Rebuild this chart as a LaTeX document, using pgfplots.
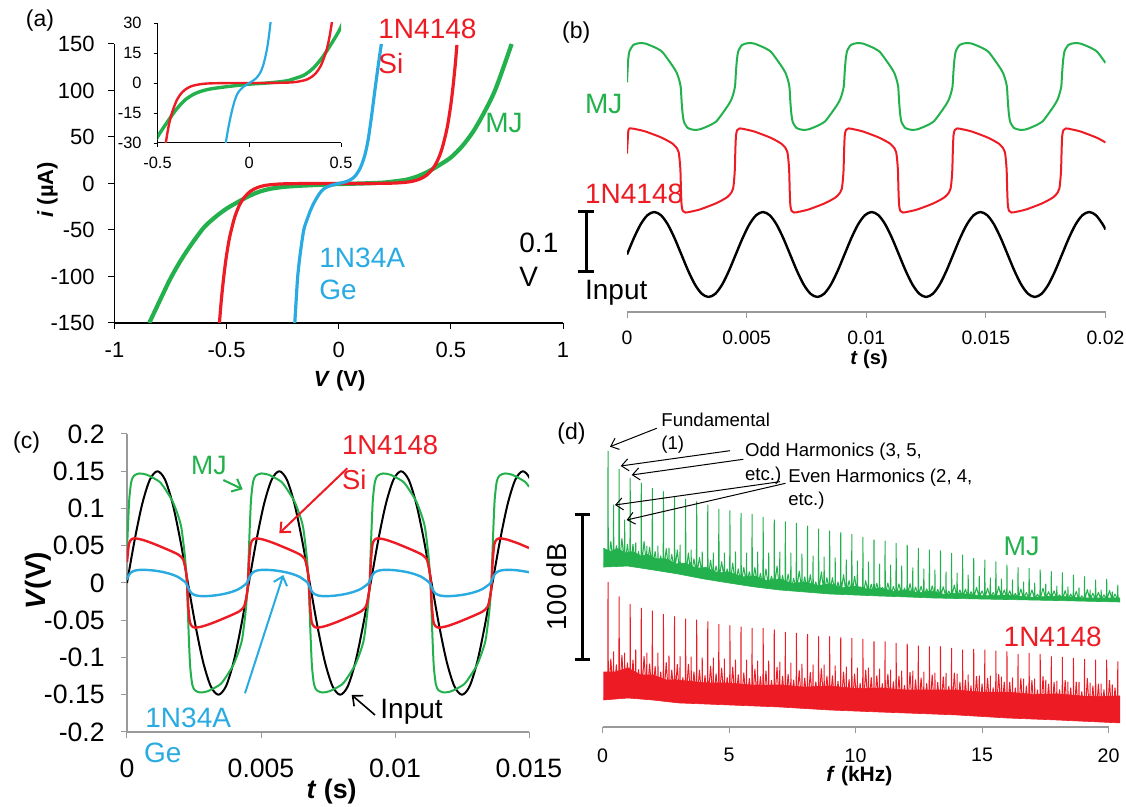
\documentclass[border=0pt]{standalone}
\usepackage{fontspec}
\setmainfont{Liberation Sans}
\usepackage{pgfplots}
\pgfplotsset{compat=1.18}
\usepackage{pgfplotstable}
\usetikzlibrary{arrows.meta}
\definecolor{mjg}{RGB}{34,177,76}
\definecolor{sir}{RGB}{237,28,36}
\definecolor{geb}{RGB}{41,171,226}
\newcommand{\fs}[1]{\fontsize{#1}{#1}\selectfont}

\pgfplotstableread{
V i
-0.532 -150
-0.525 -129
-0.515 -105
-0.505 -85
-0.495 -69
-0.485 -56
-0.465 -37
-0.445 -24.4
-0.425 -16.1
-0.395 -8.6
-0.365 -4.6
-0.335 -2.46
-0.305 -1.32
-0.255 -0.46
-0.2 -0.16
-0.1 -0.02
0 0
0.1 0.02
0.2 0.16
0.25 0.46
0.30 1.32
0.33 2.46
0.36 4.6
0.39 8.6
0.42 16.1
0.44 24.4
0.46 37
0.48 56
0.49 69
0.50 85
0.51 105
0.52 129
0.527 149
}\tabRed

\pgfplotstableread{
V i
-0.196 -150
-0.19 -126
-0.183 -100
-0.172 -76
-0.156 -50
-0.14 -38
-0.128 -30
-0.113 -22
-0.097 -15
-0.08 -9
-0.065 -5.5
-0.05 -3.5
-0.03 -1.8
-0.015 -0.8
0 0
0.02 1.1
0.04 2.6
0.059 5
0.075 8.5
0.09 14
0.102 20
0.118 32
0.131 47
0.145 70
0.16 98
0.175 125
0.19 150
}\tabBlue

\pgfplotstableread{
V i
-0.845 -150
-0.8 -127
-0.75 -102
-0.7 -81
-0.65 -63
-0.6 -47
-0.55 -36
-0.5 -27
-0.45 -20
-0.4 -13.5
-0.35 -8.5
-0.3 -5.5
-0.25 -3.8
-0.2 -2.8
-0.1 -1.6
0 -0.6
0.1 0
0.2 1
0.25 2.3
0.3 4
0.35 7.5
0.4 13
0.45 20
0.5 28
0.55 40
0.6 56
0.65 77
0.7 102
0.771 150
}\tabGreen

\pgfplotstableread{
t vb vc
0.000 0 0
0.284 0.0271 0.0574
0.568 0.0501 0.1061
0.852 0.0654 0.1386
1.136 0.0708 0.15
1.420 0.0654 0.1386
1.705 0.0501 0.1061
1.989 0.0271 0.0574
2.273 0 0
2.557 -0.0271 -0.0574
2.841 -0.0501 -0.1061
3.125 -0.0654 -0.1386
3.409 -0.0708 -0.15
3.693 -0.0654 -0.1386
3.977 -0.0501 -0.1061
4.261 -0.0271 -0.0574
4.545 0 0
4.830 0.0271 0.0574
5.114 0.0501 0.1061
5.398 0.0654 0.1386
5.682 0.0708 0.15
5.966 0.0654 0.1386
6.250 0.0501 0.1061
6.534 0.0271 0.0574
6.818 0 0
7.102 -0.0271 -0.0574
7.386 -0.0501 -0.1061
7.670 -0.0654 -0.1386
7.955 -0.0708 -0.15
8.239 -0.0654 -0.1386
8.523 -0.0501 -0.1061
8.807 -0.0271 -0.0574
9.091 0 0
9.375 0.0271 0.0574
9.659 0.0501 0.1061
9.943 0.0654 0.1386
10.227 0.0708 0.15
10.511 0.0654 0.1386
10.795 0.0501 0.1061
11.080 0.0271 0.0574
11.364 0 0
11.648 -0.0271 -0.0574
11.932 -0.0501 -0.1061
12.216 -0.0654 -0.1386
12.500 -0.0708 -0.15
12.784 -0.0654 -0.1386
13.068 -0.0501 -0.1061
13.352 -0.0271 -0.0574
13.636 0 0
13.920 0.0271 0.0574
14.205 0.0501 0.1061
14.489 0.0654 0.1386
14.773 0.0708 0.15
15.057 0.0654 0.1386
15.341 0.0501 0.1061
15.625 0.0271 0.0574
15.909 0 0
16.193 -0.0271 -0.0574
16.477 -0.0501 -0.1061
16.761 -0.0654 -0.1386
17.045 -0.0708 -0.15
17.330 -0.0654 -0.1386
17.614 -0.0501 -0.1061
17.898 -0.0271 -0.0574
18.182 0 0
18.466 0.0271 0.0574
18.750 0.0501 0.1061
19.034 0.0654 0.1386
19.318 0.0708 0.15
19.602 0.0654 0.1386
19.886 0.0501 0.1061
20.000 0.0415 0.0879
}\tabSine

\pgfplotstableread{
f g r
0.03 112.5 20
0.207 112.5 20
0.219 190.3 99.8
0.231 112.5 20
0.329 128 46.8
0.426 112.5 20
0.438 153.1 51.9
0.450 112.5 20
0.548 125 42.9
0.645 112.5 20
0.657 177.7 89.9
0.669 112.5 20
0.767 130 49.4
0.864 112.5 20
0.876 142.8 51.0
0.888 112.5 20
0.986 126 44.2
1.083 111 21
1.095 171.5 84.6
1.107 111 21
1.205 126 46.1
1.302 111 21
1.314 126.9 53.1
1.326 111 21
1.424 121 39.6
1.521 111 21
1.533 168.1 81.9
1.545 111 21
1.643 128 48.7
1.740 111 21
1.752 124.8 51.0
1.764 111 21
1.862 124 43.5
1.959 111 21
1.971 164.6 80.0
1.983 111 21
2.081 121 41.8
2.178 108.5 19.5
2.190 124.8 51.0
2.202 108.5 19.5
2.300 118 37.9
2.397 108.5 19.5
2.409 162.3 77.7
2.421 108.5 19.5
2.519 123 44.4
2.616 108.5 19.5
2.628 123.4 49.0
2.640 108.5 19.5
2.738 119 39.2
2.835 108.5 19.5
2.847 158.4 76.1
2.859 108.5 19.5
2.957 122 43.1
3.054 105.5 17.5
3.066 125.5 48.5
3.078 105.5 17.5
3.176 113 34.1
3.273 105.5 17.5
3.285 157.0 74.5
3.297 105.5 17.5
3.395 120 43.2
3.492 105.5 17.5
3.504 122.1 48.3
3.516 105.5 17.5
3.614 116 38
3.711 105.5 17.5
3.723 155.4 73.8
3.735 105.5 17.5
3.833 117 39.3
3.930 105.5 17.5
3.942 120.7 47.6
3.954 105.5 17.5
4.052 110 35.4
4.149 102.5 17.5
4.161 153.1 72.6
4.173 102.5 17.5
4.271 115 41.9
4.368 102.5 17.5
4.380 120.0 47.6
4.392 102.5 17.5
4.490 111 36.7
4.587 102.5 17.5
4.599 150.1 70.8
4.611 102.5 17.5
4.709 114 40.6
4.806 102.5 17.5
4.818 120.0 46.9
4.830 102.5 17.5
4.928 109 34.1
5.025 99.5 16
5.037 149.2 69.9
5.049 99.5 16
5.147 113 41.2
5.244 99.5 16
5.256 120.7 46.2
5.268 99.5 16
5.366 109 36
5.463 99.5 16
5.475 147.4 69.0
5.487 99.5 16
5.585 110 37.3
5.682 99.5 16
5.694 120.0 46.2
5.706 99.5 16
5.804 107 33.4
5.901 99.5 16
5.913 146.7 68.1
5.925 99.5 16
6.023 110 39.9
6.120 97 16
6.132 120.7 45.5
6.144 97 16
6.242 106 34.7
6.339 97 16
6.351 144.6 68.1
6.363 97 16
6.461 109 38.6
6.558 97 16
6.570 120.0 45.5
6.582 97 16
6.680 104 32.1
6.777 97 16
6.789 142.8 66.9
6.801 97 16
6.899 111 41.2
6.996 95 14.5
7.008 120.7 44.8
7.020 95 14.5
7.118 104.5 35
7.215 95 14.5
7.227 141.6 65.3
7.239 95 14.5
7.337 105.5 36.3
7.434 95 14.5
7.446 120.0 44.1
7.458 95 14.5
7.556 102.5 32.4
7.653 95 14.5
7.665 140.5 64.6
7.677 95 14.5
7.775 107.5 38.9
7.872 95 14.5
7.884 119.3 43.4
7.896 95 14.5
7.994 103.5 33.7
8.091 93.5 14.5
8.103 138.6 63.9
8.115 93.5 14.5
8.213 105 37.6
8.310 93.5 14.5
8.322 117.9 42.8
8.334 93.5 14.5
8.432 100 31.1
8.529 93.5 14.5
8.541 136.6 62.3
8.553 93.5 14.5
8.651 107 40.2
8.748 93.5 14.5
8.760 117.2 42.8
8.772 93.5 14.5
8.870 103 35
8.967 93.5 14.5
8.979 135.2 62.3
8.991 93.5 14.5
9.089 103 35.3
9.186 92.5 12.5
9.198 116.6 42.1
9.210 92.5 12.5
9.308 100 31.4
9.405 92.5 12.5
9.417 134.0 61.6
9.429 92.5 12.5
9.527 105 37.9
9.624 92.5 12.5
9.636 115.2 41.4
9.648 92.5 12.5
9.746 101 32.7
9.843 92.5 12.5
9.855 132.9 61.2
9.867 92.5 12.5
9.965 104 36.6
10.062 92 12.5
10.074 114.5 40.7
10.086 92 12.5
10.184 96.7 30.1
10.281 92 12.5
10.293 130.8 60.5
10.305 92 12.5
10.403 100.9 39.2
10.500 92 12.5
10.512 113.8 40.7
10.524 92 12.5
10.622 98.5 34
10.719 92 12.5
10.731 129.0 58.8
10.743 92 12.5
10.841 99.1 35.3
10.938 92 12.5
10.950 112.4 40.0
10.962 92 12.5
11.060 96.3 29.9
11.157 91.3 11
11.169 128.3 58.8
11.181 91.3 11
11.279 99.3 36.4
11.376 91.3 11
11.388 111.7 39.3
11.400 91.3 11
11.498 96.9 31.2
11.595 91.3 11
11.607 126.7 57.7
11.619 91.3 11
11.717 98.7 35.1
11.814 91.3 11
11.826 111.0 38.6
11.838 91.3 11
11.936 95.7 28.6
12.033 90.7 11
12.045 125.5 57.2
12.057 90.7 11
12.155 98.9 37.7
12.252 90.7 11
12.264 109.7 38.6
12.276 90.7 11
12.374 96.5 32.5
12.471 90.7 11
12.483 123.2 55.9
12.495 90.7 11
12.593 97.1 33.8
12.690 90.7 11
12.702 109.0 37.9
12.714 90.7 11
12.812 95.3 29.9
12.909 90.7 11
12.921 122.1 55.4
12.933 90.7 11
13.031 97.3 35.9
13.128 90.2 10
13.140 108.3 37.2
13.152 90.2 10
13.250 94.9 30.7
13.347 90.2 10
13.359 121.4 55.4
13.371 90.2 10
13.469 96.7 34.6
13.566 90.2 10
13.578 106.9 37.2
13.590 90.2 10
13.688 93.7 28.1
13.785 90.2 10
13.797 119.8 54.3
13.809 90.2 10
13.907 97.9 37.2
14.004 89.6 8.7
14.016 106.2 36.6
14.028 89.6 8.7
14.126 94.5 31
14.223 89.6 8.7
14.235 118.6 53.1
14.247 89.6 8.7
14.345 95.1 32.3
14.442 89.6 8.7
14.454 104.8 35.9
14.466 89.6 8.7
14.564 93.3 28.4
14.661 89.6 8.7
14.673 116.3 53.6
14.685 89.6 8.7
14.783 96.3 34.9
14.880 89.6 8.7
14.892 104.1 35.2
14.904 89.6 8.7
15.002 93.9 29.7
15.099 89.6 8.7
15.111 115.2 53.1
15.123 89.6 8.7
15.221 95.7 33.6
15.318 89.6 8.7
15.330 102.8 35.2
15.342 89.6 8.7
15.440 92.7 27.1
15.537 89.6 8.7
15.549 114.0 52.4
15.561 89.6 8.7
15.659 96.9 36.2
15.756 89.6 8.7
15.768 102.1 34.5
15.780 89.6 8.7
15.878 94.5 31
15.975 89.6 8.7
15.987 111.7 51.9
15.999 89.6 8.7
16.097 93.9 30.8
16.194 89 7
16.206 101.4 33.8
16.218 89 7
16.316 92.1 26.9
16.413 89 7
16.425 109.9 50.1
16.437 89 7
16.535 95.1 33.4
16.632 89 7
16.644 100.0 33.1
16.656 89 7
16.754 92.7 28.2
16.851 89 7
16.863 109.4 50.8
16.875 89 7
16.973 94.5 32.1
17.070 89 7
17.082 99.3 33.1
17.094 89 7
17.192 91.5 25.6
17.289 89 7
17.301 108.3 50.1
17.313 89 7
17.411 95.7 34.7
17.508 89 7
17.520 98.6 32.4
17.532 89 7
17.630 93.3 29.5
17.727 89 7
17.739 107.1 48.5
17.751 89 7
17.849 93.9 30.8
17.946 89 7
17.958 97.2 31.7
17.970 89 7
18.068 91.1 25.7
18.165 88 5
18.177 106.4 48.1
18.189 88 5
18.287 94.1 32.2
18.384 88 5
18.396 96.6 31.0
18.408 88 5
18.506 91.7 27
18.603 88 5
18.615 104.8 47.4
18.627 88 5
18.725 93.5 30.9
18.822 88 5
18.834 95.9 31.0
18.846 88 5
18.944 90.5 24.4
19.041 88 5
19.053 103.7 46.7
19.065 88 5
19.163 94.7 33.5
19.260 88 5
19.272 94.5 30.3
19.284 88 5
19.382 92.3 28.3
19.479 88 5
19.491 101.4 46.2
19.503 88 5
19.601 92.9 29.6
19.698 88 5
19.710 94.5 29.7
19.722 88 5
19.820 91.1 25.7
19.917 88 5
19.929 101.9 46.2
19.941 88 5
20.039 94.1 32.2
20.136 88 5
20.148 93.1 29.0
20.160 88 5
20.258 91.7 27
20.355 88 5
20.367 97.9 45.0
20.379 88 5
20.450 88 5
}\tabSpec

\begin{document}
\begin{tikzpicture}[line join=round]
\useasboundingbox (0,0) rectangle (563pt,403.5pt);

% ---------------- (a) main ----------------
\begin{axis}[at={(57.25pt,242pt)}, anchor=south west, scale only axis,
  width=224.25pt, height=139.5pt,
  xmin=-1, xmax=1, ymin=-150, ymax=150,
  axis lines=left, axis line style={-, black, line width=0.6pt},
  tick align=outside, major tick length=3pt, tick style={black, line width=0.5pt},
  xtick={-1,-0.5,0,0.5,1}, xticklabels={-1,-0.5,0,0.5,1},
  ytick={-150,-100,-50,0,50,100,150}, yticklabels={-150,-100,-50,0,50,100,150},
  ticklabel style={font=\fs{11}, inner sep=0pt},
  xticklabel style={anchor=north, yshift=-6.5pt},
  yticklabel style={anchor=east, xshift=-6.75pt}]
\addplot[mjg, line width=2.1pt, smooth] table[x=V,y=i] {\tabGreen};
\addplot[sir, line width=1.6pt, smooth] table[x=V,y=i] {\tabRed};
\addplot[geb, line width=1.6pt, smooth] table[x=V,y=i] {\tabBlue};
\end{axis}

% ---------------- (a) inset ----------------
\begin{axis}[at={(78.75pt,332pt)}, anchor=south west, scale only axis,
  width=91.75pt, height=60pt,
  xmin=-0.5, xmax=0.5, ymin=-30, ymax=30,
  axis lines=left, axis line style={-, black, line width=0.5pt},
  tick align=outside, major tick length=2pt, tick style={black, line width=0.4pt},
  xtick={-0.5,0,0.5}, xticklabels={-0.5,0,0.5},
  ytick={-30,-15,0,15,30}, yticklabels={-30,-15,0,15,30},
  ticklabel style={font=\fs{8.2}, inner sep=0pt},
  xticklabel style={anchor=north, yshift=-5pt},
  yticklabel style={anchor=east, xshift=-5.75pt}]
\addplot[mjg, line width=1.7pt, smooth] table[x=V,y=i] {\tabGreen};
\addplot[sir, line width=1.2pt, smooth] table[x=V,y=i] {\tabRed};
\addplot[geb, line width=1.1pt, smooth] table[x=V,y=i] {\tabBlue};
\end{axis}

% ---------------- (b) ----------------
\begin{axis}[at={(313.5pt,247.5pt)}, anchor=south west, scale only axis,
  width=239.25pt, height=138.5pt,
  xmin=0, xmax=20, ymin=-0.0958, ymax=0.3658,
  axis x line=bottom, axis y line=none, axis line style={-, black!40, line width=0.6pt},
  tick align=outside, major tick length=3pt, tick style={black!40, line width=0.5pt},
  xtick={0,5,10,15,20}, xticklabels={0,0.005,0.01,0.015,0.02}, ytick=\empty,
  ticklabel style={font=\fs{9.7}, inner sep=0pt},
  xticklabel style={anchor=north, yshift=-6.5pt}]
\addplot[black, line width=1.2pt, smooth] table[x=t,y=vb] {\tabSine};
\addplot[sir, line width=1pt, smooth, tension=0.4] coordinates {
(0,0.168) (0.06,0.2073) (0.16,0.2101) (0.26,0.2097) (0.76,0.2051) (1.46,0.1945) (1.91,0.1846) (2.09,0.1768) (2.16,0.1704) (2.2,0.1577)
(2.233,0.14) (2.258,0.1046) (2.283,0.0819) (2.333,0.0727) (2.433,0.0699) (2.533,0.0703) (3.033,0.0749) (3.733,0.0855) (4.183,0.0954) (4.363,0.1032) (4.433,0.1096) (4.473,0.1223)
(4.505,0.14) (4.530,0.1754) (4.555,0.1981) (4.605,0.2073) (4.705,0.2101) (4.805,0.2097) (5.305,0.2051) (6.005,0.1945) (6.455,0.1846) (6.635,0.1768) (6.705,0.1704) (6.745,0.1577)
(6.778,0.14) (6.803,0.1046) (6.828,0.0819) (6.878,0.0727) (6.978,0.0699) (7.078,0.0703) (7.578,0.0749) (8.278,0.0855) (8.728,0.0954) (8.908,0.1032) (8.978,0.1096) (9.018,0.1223)
(9.051,0.14) (9.076,0.1754) (9.101,0.1981) (9.151,0.2073) (9.251,0.2101) (9.351,0.2097) (9.851,0.2051) (10.551,0.1945) (11.001,0.1846) (11.181,0.1768) (11.251,0.1704) (11.291,0.1577)
(11.324,0.14) (11.349,0.1046) (11.374,0.0819) (11.424,0.0727) (11.524,0.0699) (11.624,0.0703) (12.124,0.0749) (12.824,0.0855) (13.274,0.0954) (13.454,0.1032) (13.524,0.1096) (13.564,0.1223)
(13.596,0.14) (13.621,0.1754) (13.646,0.1981) (13.696,0.2073) (13.796,0.2101) (13.896,0.2097) (14.396,0.2051) (15.096,0.1945) (15.546,0.1846) (15.726,0.1768) (15.796,0.1704) (15.836,0.1577)
(15.869,0.14) (15.894,0.1046) (15.919,0.0819) (15.969,0.0727) (16.069,0.0699) (16.169,0.0703) (16.669,0.0749) (17.369,0.0855) (17.819,0.0954) (17.999,0.1032) (18.069,0.1096) (18.109,0.1223)
(18.142,0.14) (18.167,0.1754) (18.192,0.1981) (18.242,0.2073) (18.342,0.2101) (18.442,0.2097) (18.942,0.2051) (19.642,0.1945) (20.0,0.1867)};
\addplot[mjg, line width=1pt, smooth, tension=0.4] coordinates {
(0,0.287) (0.05,0.3248) (0.11,0.3392) (0.27,0.3493) (0.52,0.3522) (0.77,0.3515) (1.17,0.345) (1.47,0.3378) (1.77,0.3219) (1.97,0.3103) (2.09,0.3017) (2.17,0.2923)
(2.243,0.28) (2.283,0.2547) (2.323,0.2352) (2.383,0.2208) (2.543,0.2107) (2.793,0.2078) (3.043,0.2085) (3.443,0.215) (3.743,0.2222) (4.043,0.2381) (4.243,0.2497) (4.363,0.2583) (4.443,0.2677)
(4.515,0.28) (4.555,0.3053) (4.595,0.3248) (4.655,0.3392) (4.815,0.3493) (5.065,0.3522) (5.315,0.3515) (5.715,0.345) (6.015,0.3378) (6.315,0.3219) (6.515,0.3103) (6.635,0.3017) (6.715,0.2923)
(6.788,0.28) (6.828,0.2547) (6.868,0.2352) (6.928,0.2208) (7.088,0.2107) (7.338,0.2078) (7.588,0.2085) (7.988,0.215) (8.288,0.2222) (8.588,0.2381) (8.788,0.2497) (8.908,0.2583) (8.988,0.2677)
(9.061,0.28) (9.101,0.3053) (9.141,0.3248) (9.201,0.3392) (9.361,0.3493) (9.611,0.3522) (9.861,0.3515) (10.261,0.345) (10.561,0.3378) (10.861,0.3219) (11.061,0.3103) (11.181,0.3017) (11.261,0.2923)
(11.334,0.28) (11.374,0.2547) (11.414,0.2352) (11.474,0.2208) (11.634,0.2107) (11.884,0.2078) (12.134,0.2085) (12.534,0.215) (12.834,0.2222) (13.134,0.2381) (13.334,0.2497) (13.454,0.2583) (13.534,0.2677)
(13.606,0.28) (13.646,0.3053) (13.686,0.3248) (13.746,0.3392) (13.906,0.3493) (14.156,0.3522) (14.406,0.3515) (14.806,0.345) (15.106,0.3378) (15.406,0.3219) (15.606,0.3103) (15.726,0.3017) (15.806,0.2923)
(15.879,0.28) (15.919,0.2547) (15.959,0.2352) (16.019,0.2208) (16.179,0.2107) (16.429,0.2078) (16.679,0.2085) (17.079,0.215) (17.379,0.2222) (17.679,0.2381) (17.879,0.2497) (17.999,0.2583) (18.079,0.2677)
(18.152,0.28) (18.192,0.3053) (18.232,0.3248) (18.292,0.3392) (18.452,0.3493) (18.702,0.3522) (18.952,0.3515) (19.352,0.345) (19.652,0.3378) (19.952,0.3219) (20.0,0.319)};
\end{axis}

% ---------------- (c) ----------------
\begin{axis}[at={(63.5pt,37.5pt)}, anchor=south west, scale only axis,
  width=201pt, height=149pt,
  xmin=0, xmax=15, ymin=-0.2, ymax=0.2,
  axis lines=left, axis line style={-, black!40, line width=0.6pt},
  tick align=outside, major tick length=3pt, tick style={black!40, line width=0.5pt},
  xtick={0,5,10,15}, xticklabels={0,0.005,0.01,0.015},
  ytick={-0.2,-0.15,-0.1,-0.05,0,0.05,0.1,0.15,0.2},
  yticklabels={-0.2,-0.15,-0.1,-0.05,0,0.05,0.1,0.15,0.2},
  ticklabel style={font=\fs{13.3}, inner sep=0pt},
  xticklabel style={anchor=north, yshift=-10.25pt},
  yticklabel style={anchor=east, xshift=-8pt}]
\addplot[black, line width=1pt, smooth] table[x=t,y=vc] {\tabSine};
\addplot[mjg, line width=1pt, smooth, tension=0.4] coordinates {
(0,0.045) (0.08,0.11) (0.16,0.136) (0.26,0.144) (0.46,0.147) (0.76,0.145) (1.21,0.136) (1.46,0.124) (1.71,0.109) (1.91,0.09) (2.03,0.074) (2.16,0.036)
(2.233,0) (2.293,-0.06) (2.353,-0.11) (2.433,-0.136) (2.533,-0.144) (2.733,-0.147) (3.033,-0.145) (3.483,-0.136) (3.733,-0.124) (3.983,-0.109) (4.183,-0.09) (4.303,-0.074) (4.433,-0.036)
(4.505,0) (4.565,0.06) (4.625,0.11) (4.705,0.136) (4.805,0.144) (5.005,0.147) (5.305,0.145) (5.755,0.136) (6.005,0.124) (6.255,0.109) (6.455,0.09) (6.575,0.074) (6.705,0.036)
(6.778,0) (6.838,-0.06) (6.898,-0.11) (6.978,-0.136) (7.078,-0.144) (7.278,-0.147) (7.578,-0.145) (8.028,-0.136) (8.278,-0.124) (8.528,-0.109) (8.728,-0.09) (8.848,-0.074) (8.978,-0.036)
(9.051,0) (9.111,0.06) (9.171,0.11) (9.251,0.136) (9.351,0.144) (9.551,0.147) (9.851,0.145) (10.301,0.136) (10.551,0.124) (10.801,0.109) (11.001,0.09) (11.121,0.074) (11.251,0.036)
(11.324,0) (11.384,-0.06) (11.444,-0.11) (11.524,-0.136) (11.624,-0.144) (11.824,-0.147) (12.124,-0.145) (12.574,-0.136) (12.824,-0.124) (13.074,-0.109) (13.274,-0.09) (13.394,-0.074) (13.524,-0.036)
(13.596,0) (13.656,0.06) (13.716,0.11) (13.796,0.136) (13.896,0.144) (14.096,0.147) (14.396,0.145) (14.846,0.136) (15.0,0.129)};
\addplot[sir, line width=1.2pt, smooth, tension=0.4] coordinates {
(0,0.028) (0.07,0.052) (0.15,0.058) (0.27,0.06) (0.57,0.058) (0.97,0.053) (1.57,0.044) (1.92,0.038) (2.09,0.032) (2.17,0.022) (2.22,0.01)
(2.243,0) (2.283,-0.03) (2.343,-0.052) (2.423,-0.058) (2.543,-0.06) (2.843,-0.058) (3.243,-0.053) (3.843,-0.044) (4.193,-0.038) (4.363,-0.032) (4.443,-0.022) (4.493,-0.01)
(4.515,0) (4.555,0.03) (4.615,0.052) (4.695,0.058) (4.815,0.06) (5.115,0.058) (5.515,0.053) (6.115,0.044) (6.465,0.038) (6.635,0.032) (6.715,0.022) (6.765,0.01)
(6.788,0) (6.828,-0.03) (6.888,-0.052) (6.968,-0.058) (7.088,-0.06) (7.388,-0.058) (7.788,-0.053) (8.388,-0.044) (8.738,-0.038) (8.908,-0.032) (8.988,-0.022) (9.038,-0.01)
(9.061,0) (9.101,0.03) (9.161,0.052) (9.241,0.058) (9.361,0.06) (9.661,0.058) (10.061,0.053) (10.661,0.044) (11.011,0.038) (11.181,0.032) (11.261,0.022) (11.311,0.01)
(11.334,0) (11.374,-0.03) (11.434,-0.052) (11.514,-0.058) (11.634,-0.06) (11.934,-0.058) (12.334,-0.053) (12.934,-0.044) (13.284,-0.038) (13.454,-0.032) (13.534,-0.022) (13.584,-0.01)
(13.606,0) (13.646,0.03) (13.706,0.052) (13.786,0.058) (13.906,0.06) (14.206,0.058) (14.606,0.053) (15.0,0.047)};
\addplot[geb, line width=1.2pt, smooth, tension=0.5] coordinates {
(0,0.004) (0.03,0.008) (0.13,0.0135) (0.28,0.0165) (0.53,0.0177) (0.93,0.017) (1.33,0.0148) (1.63,0.012) (1.88,0.0085) (2.05,0.0045)
(2.203,0) (2.303,-0.008) (2.403,-0.0135) (2.553,-0.0165) (2.803,-0.0177) (3.203,-0.017) (3.603,-0.0148) (3.903,-0.012) (4.153,-0.0085) (4.323,-0.0045)
(4.475,0) (4.575,0.008) (4.675,0.0135) (4.825,0.0165) (5.075,0.0177) (5.475,0.017) (5.875,0.0148) (6.175,0.012) (6.425,0.0085) (6.595,0.0045)
(6.748,0) (6.848,-0.008) (6.948,-0.0135) (7.098,-0.0165) (7.348,-0.0177) (7.748,-0.017) (8.148,-0.0148) (8.448,-0.012) (8.698,-0.0085) (8.868,-0.0045)
(9.021,0) (9.121,0.008) (9.221,0.0135) (9.371,0.0165) (9.621,0.0177) (10.021,0.017) (10.421,0.0148) (10.721,0.012) (10.971,0.0085) (11.141,0.0045)
(11.294,0) (11.394,-0.008) (11.494,-0.0135) (11.644,-0.0165) (11.894,-0.0177) (12.294,-0.017) (12.694,-0.0148) (12.994,-0.012) (13.244,-0.0085) (13.414,-0.0045)
(13.566,0) (13.666,0.008) (13.766,0.0135) (13.916,0.0165) (14.166,0.0177) (14.566,0.017) (15.0,0.0145)};
\end{axis}

% ---------------- (d) ----------------
\begin{axis}[at={(301.25pt,40pt)}, anchor=south west, scale only axis,
  width=253pt, height=148.625pt,
  xmin=0, xmax=20, ymin=0, ymax=205, clip=false,
  axis x line=bottom, axis y line=none, axis line style={-, black!40, line width=0.6pt},
  tick align=outside, major tick length=3pt, tick style={black!40, line width=0.5pt},
  xtick={0,5,10,15,20}, xticklabels={0,5,10,15,20}, ytick=\empty,
  ticklabel style={font=\fs{9.8}, inner sep=0pt},
  xticklabel style={anchor=north, yshift=-7.5pt}]
\addplot[fill=mjg, draw=mjg, line width=0.3pt] coordinates {
(0.03,110.3) (1,111.0) (2,108.3) (3,105.5) (4,102.1) (5,99.3) (6,96.6) (7,94.5) (8,93.1) (9,91.7) (10,91.0) (11,90.3) (12,89.7) (13,89.0) (14,88.6) (16,87.9) (18,87.2) (20.45,86.2)
(20.45,89.0) (19,89) (18,90.3) (17,89.5) (16,91.0) (15,90.5) (14,92.4) (13.5,91.5) (13,93.8) (12.5,92.5) (12,94.5) (11.5,93.5) (11,95.9) (10.5,95) (10,97.2) (9.5,96) (9,98.6) (8.5,97.5) (8,100) (7.5,99) (7,102.1) (6.5,101) (6,104.1) (5.5,103.5) (5,106.9) (4.5,106.5) (4.1,110) (3.7,109.5) (3.3,113) (2.9,112.5) (2.5,116) (2.1,116) (1.8,119) (1.5,118) (1.2,121) (0.9,120) (0.6,123) (0.3,121) (0.03,123.4)};
\addplot[fill=sir, draw=sir, line width=0.3pt] coordinates {
(0.03,18.6) (1,20.0) (2,18.6) (3,16.6) (5,15.2) (7,13.8) (9,11.7) (11,10.3) (13,9.0) (14,8.3) (16,6.2) (18,4.8) (20.45,2.8)
(20.45,21.4) (19.2,21) (18,22.8) (17,22.5) (16,24.1) (15,24) (14,25.5) (13,25.5) (12,25.5) (11,26.9) (10,26.5) (9,28.3) (8,27.5) (7,29.0) (6,28.8) (5,30.3) (4,30.5) (3,32.4) (2.5,32.5) (2,35.9) (1.5,36) (1,40.7) (0.5,38) (0.03,37.9)};
\addplot[mjg, line width=0.5pt] table[x=f,y=g] {\tabSpec};
\addplot[sir, line width=0.5pt] table[x=f,y=r] {\tabSpec};
\end{axis}

% ---------------- annotations (pixel frame) ----------------
\begin{scope}[x=0.5pt, y=-0.5pt, shift={(0,403.5pt)}]
% (a)
\node[anchor=base west, inner sep=0pt, font=\fs{11.5}] at (25.5,27) {(a)};
\node[anchor=base west, inner sep=0pt, font=\fs{14}, text=sir] at (378,39) {1N4148};
\node[anchor=base west, inner sep=0pt, font=\fs{14}, text=sir] at (378,73.5) {Si};
\node[anchor=base west, inner sep=0pt, font=\fs{14}, text=mjg] at (485,133) {MJ};
\node[anchor=base west, inner sep=0pt, font=\fs{14}, text=geb] at (319,267.5) {1N34A};
\node[anchor=base west, inner sep=0pt, font=\fs{14}, text=geb] at (319,300) {Ge};
\node[anchor=base, inner sep=0pt, font=\fs{11}\bfseries] at (339.6,386.5) {\textit{V} (V)};
\node[anchor=base, inner sep=0pt, rotate=90, font=\fs{11}\bfseries] at (53,190) {\textit{i} (µA)};
% (b)
\node[anchor=base west, inner sep=0pt, font=\fs{11.5}] at (561.8,38.5) {(b)};
\node[anchor=base west, inner sep=0pt, font=\fs{14}, text=mjg] at (584.7,114) {MJ};
\node[anchor=base west, inner sep=0pt, font=\fs{14}, text=sir] at (584.7,204) {1N4148};
\node[anchor=base west, inner sep=0pt, font=\fs{14}] at (584.7,300) {Input};
\node[anchor=base west, inner sep=0pt, font=\fs{14}] at (519,253) {0.1};
\node[anchor=base west, inner sep=0pt, font=\fs{14}] at (519,287) {V};
\draw[line width=1.5pt] (586,212) -- (586,272);
\draw[line width=1.5pt] (578,212) -- (594,212);
\draw[line width=1.5pt] (578,272) -- (594,272);
\node[anchor=base, inner sep=0pt, font=\fs{10}\bfseries] at (869,365) {\textit{t} (s)};
% (c)
\node[anchor=base west, inner sep=0pt, font=\fs{11.5}] at (12.7,448.5) {(c)};
\node[anchor=base west, inner sep=0pt, font=\fs{13.3}, text=mjg] at (190.7,475) {MJ};
\node[anchor=base west, inner sep=0pt, font=\fs{13.7}, text=sir] at (341.7,455) {1N4148};
\node[anchor=base west, inner sep=0pt, font=\fs{13.7}, text=sir] at (341.7,490) {Si};
\node[anchor=base west, inner sep=0pt, font=\fs{14}, text=geb] at (145,727.5) {1N34A};
\node[anchor=base west, inner sep=0pt, font=\fs{14}, text=geb] at (143.6,762.5) {Ge};
\node[anchor=base west, inner sep=0pt, font=\fs{14}] at (380,719) {Input};
\draw[mjg, line width=1pt, -{Straight Barb[length=4pt,width=7pt]}] (223.3,480) -- (242.7,489.3);
\draw[sir, line width=1pt, -{Straight Barb[length=4pt,width=7pt]}] (347.3,468.3) -- (279.3,533.3);
\draw[geb, line width=1pt, -{Straight Barb[length=4pt,width=7pt]}] (245,693.3) -- (283.3,575);
\draw[black, line width=0.8pt, -{Straight Barb[length=4pt,width=7pt]}] (375,715) -- (351.7,695);
\node[anchor=base, inner sep=0pt, font=\fs{13.4}\bfseries] at (331.6,799) {\textit{t} (s)};
\node[anchor=base, inner sep=0pt, rotate=90, font=\fs{14}\bfseries] at (45.5,580.8) {\textit{V}(V)};
% (d)
\node[anchor=base west, inner sep=0pt, font=\fs{11.5}] at (557,440) {(d)};
\node[anchor=base west, inner sep=0pt, font=\fs{13.5}, text=mjg] at (1003.3,556) {MJ};
\node[anchor=base west, inner sep=0pt, font=\fs{14}, text=sir] at (1003.3,646.7) {1N4148};
\node[anchor=base, inner sep=0pt, rotate=90, font=\fs{13.7}] at (566,587) {100 dB};
\draw[line width=1.5pt] (582,515) -- (582,660);
\draw[line width=1.5pt] (574.5,515) -- (589.5,515);
\draw[line width=1.5pt] (574.5,660) -- (589.5,660);
\node[anchor=base, inner sep=0pt, font=\fs{10.5}\bfseries] at (859.4,782) {\textit{f} (kHz)};
\node[anchor=base west, inner sep=0pt, font=\fs{9.3}] at (661,427) {Fundamental};
\node[anchor=base west, inner sep=0pt, font=\fs{9.3}] at (661,449.5) {(1)};
\node[anchor=base west, inner sep=0pt, font=\fs{9.3}] at (744.7,457) {Odd Harmonics (3, 5,};
\node[anchor=base west, inner sep=0pt, font=\fs{9.3}] at (744.7,480.5) {etc.)};
\node[anchor=base west, inner sep=0pt, font=\fs{9.3}] at (788,483) {Even Harmonics (2, 4,};
\node[anchor=base west, inner sep=0pt, font=\fs{9.3}] at (788,506) {etc.)};
\begin{scope}[line width=0.5pt, -{Straight Barb[length=3.5pt,width=6pt]}]
\draw (656.7,428.3) -- (610,446.7);
\draw (730,450.7) -- (620.7,466);
\draw (743.3,459.3) -- (631.7,475);
\draw (780,481.7) -- (615,505);
\draw (785.5,483.3) -- (626.7,520);
\end{scope}
\end{scope}
\end{tikzpicture}
\end{document}
